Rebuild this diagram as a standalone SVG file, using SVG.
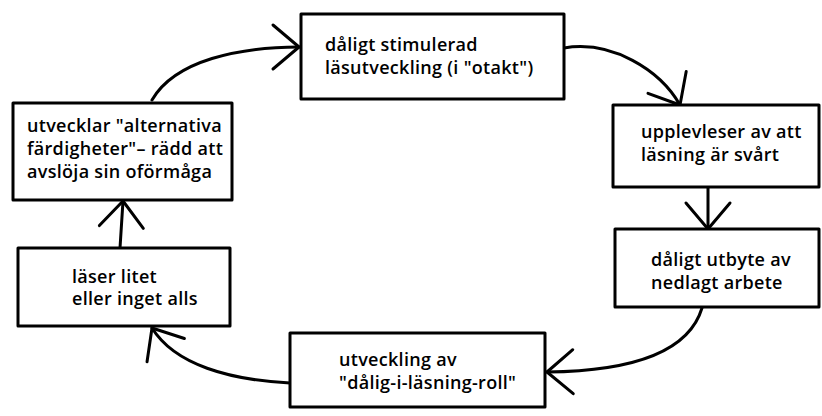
<svg xmlns="http://www.w3.org/2000/svg" width="822" height="416" viewBox="0 0 822 416">
<style>
.box{fill:#fff;stroke:#000;stroke-width:3;stroke-linejoin:round}
.t{font-family:"Open Sans","Liberation Sans",sans-serif;font-size:18px;font-weight:600;letter-spacing:0.3px;fill:#000}
.c{fill:none;stroke:#000;stroke-width:3;stroke-linecap:round}
</style>
<defs>
<marker id="arr" markerUnits="userSpaceOnUse" markerWidth="40" markerHeight="56" viewBox="-32 -28 40 56" refX="0" refY="0" orient="auto" overflow="visible">
<path d="M-26,-22 L0,0 L-26,22" fill="none" stroke="#000" stroke-width="3" stroke-linecap="round" stroke-linejoin="round"/>
</marker>
</defs>
<rect width="822" height="416" fill="#fff"/>
<g id="connectors">
<path class="c" d="M152,100 C175,60 240,47 299,47" marker-end="url(#arr)"/>
<path class="c" d="M564,48 C612,40 660,70 680,105" marker-end="url(#arr)"/>
<path class="c" d="M708,187 L708,229" marker-end="url(#arr)"/>
<path class="c" d="M702,308 C690,348 640,371 547,372" marker-end="url(#arr)"/>
<path class="c" d="M290,383 C230,380 175,365 152,328" marker-end="url(#arr)"/>
<path class="c" d="M120,248 L123,201" marker-end="url(#arr)"/>
</g>
<g id="n1">
<rect class="box" x="301" y="14" width="263" height="85"/>
<text class="t" x="325" y="51">dåligt stimulerad</text>
<text class="t" x="325" y="74">läsutveckling (i "otakt")</text>
</g>
<g id="n2">
<rect class="box" x="613" y="105" width="206" height="82"/>
<text class="t" x="641" y="138">upplevleser av att</text>
<text class="t" x="641" y="161">läsning är svårt</text>
</g>
<g id="n3">
<rect class="box" x="615" y="229" width="204" height="78"/>
<text class="t" x="651" y="266">dåligt utbyte av</text>
<text class="t" x="651" y="289">nedlagt arbete</text>
</g>
<g id="n4">
<rect class="box" x="290" y="333" width="255" height="74"/>
<text class="t" x="339" y="366">utveckling av</text>
<text class="t" x="339" y="389">"dålig-i-läsning-roll"</text>
</g>
<g id="n5">
<rect class="box" x="18" y="248" width="212" height="78"/>
<text class="t" x="72" y="283">läser litet</text>
<text class="t" x="72" y="305">eller inget alls</text>
</g>
<g id="n6">
<rect class="box" x="13" y="103" width="219" height="97"/>
<text class="t" x="27" y="132">utvecklar "alternativa</text>
<text class="t" x="27" y="155">färdigheter"– rädd att</text>
<text class="t" x="27" y="178">avslöja sin oförmåga</text>
</g>
</svg>
